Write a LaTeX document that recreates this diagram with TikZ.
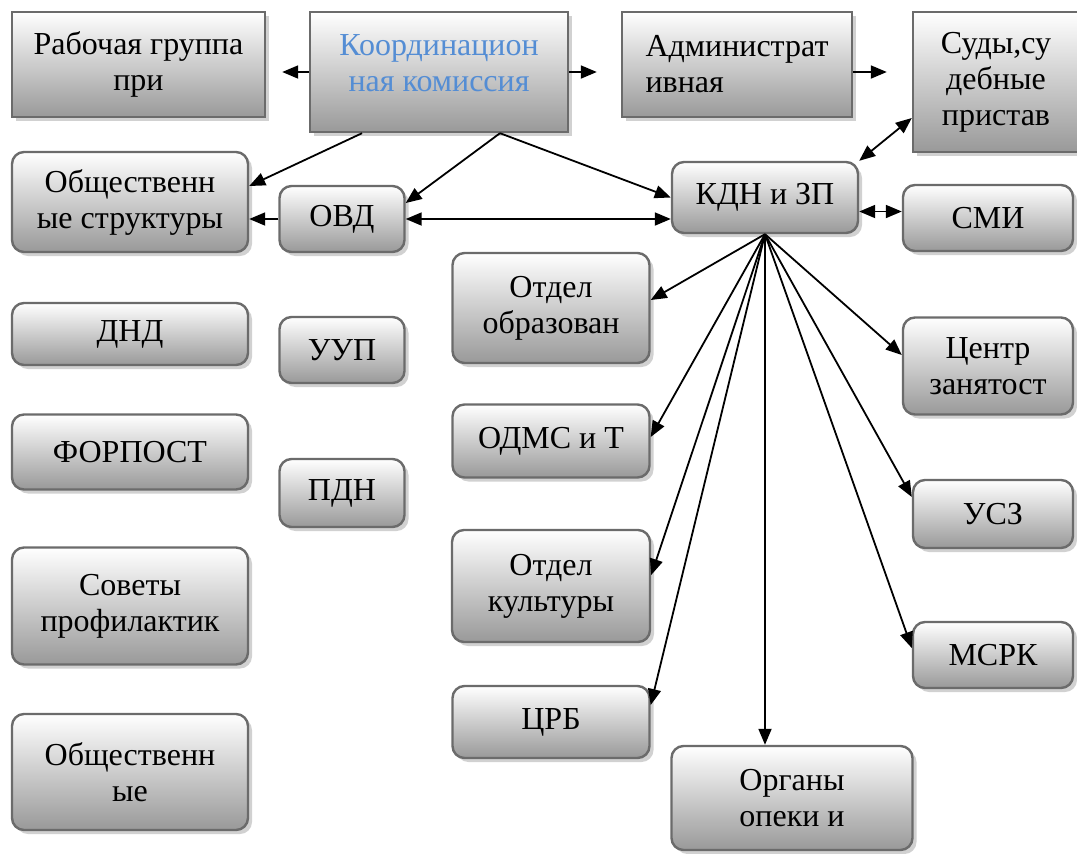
\documentclass[tikz,border=0pt]{standalone}
\usepackage{fontspec}
\setmainfont{Liberation Serif}
\usetikzlibrary{arrows.meta, shadows}
\definecolor{komblue}{HTML}{548DD4}

\begin{document}
\begin{tikzpicture}[x=0.5pt, y=-0.5pt,
  box/.style={rectangle, draw=black!58, line width=1.2pt,
              top color=white, bottom color=black!40,
              align=center, inner sep=0pt,
              font=\fontsize{16}{18}\selectfont,
              drop shadow={shadow xshift=2pt, shadow yshift=-2pt,
                           fill=black!30, opacity=0.6}},
  rbox/.style={box, rounded corners=6pt},
  arrow/.style={-{Triangle[length=8pt, width=6.5pt]}, line width=0.9pt},
  twoway/.style={{Triangle[length=8pt, width=6.5pt]}-{Triangle[length=8pt, width=6.5pt]},
                 line width=0.9pt}
]
  \useasboundingbox (0,0) rectangle (1077,853);

  % top row
  \node[box, minimum width=126.5pt, minimum height=52.5pt] (rab) at (138.5,64.5)
    {Рабочая группа\\при};
  \node[box, minimum width=129pt, minimum height=60pt, text=komblue] (koord) at (439,72)
    {Координацион\\ная комиссия\\[-9pt]\mbox{}};
  \node[box, align=left, minimum width=115pt, minimum height=52.5pt] (adm) at (737,64.5)
    {Администрат\\ивная};
  \node[box, minimum width=83pt, minimum height=70pt] (sud) at (996,82)
    {Суды,су\\дебные\\пристав};

  % left columns
  \node[rbox, minimum width=118pt, minimum height=50pt] (obs) at (130,202)
    {Общественн\\ые структуры};
  \node[rbox, minimum width=62.5pt, minimum height=33pt] (ovd) at (342,219) {ОВД};
  \node[rbox, minimum width=118pt, minimum height=31pt] (dnd) at (130,334) {ДНД};
  \node[rbox, minimum width=62.5pt, minimum height=33pt] (uup) at (342,350) {УУП};
  \node[rbox, minimum width=118pt, minimum height=37.5pt] (forpost) at (130,452) {ФОРПОСТ};
  \node[rbox, minimum width=62.5pt, minimum height=34pt] (pdn) at (342,493) {ПДН};
  \node[rbox, minimum width=118pt, minimum height=58.5pt] (sovety) at (130,606)
    {Советы\\профилактик};
  \node[rbox, minimum width=118pt, minimum height=58pt] (obs2) at (130,772)
    {Общественн\\ые};

  % centre
  \node[rbox, minimum width=93pt, minimum height=35.5pt] (kdn) at (765,197.5) {КДН и ЗП};
  \node[rbox, minimum width=98.5pt, minimum height=55pt] (obr) at (551,308)
    {Отдел\\образован};
  \node[rbox, minimum width=98.5pt, minimum height=36.5pt] (odms) at (551,441) {ОДМС и Т};
  \node[rbox, minimum width=99pt, minimum height=56pt] (kult) at (551,586)
    {Отдел\\культуры};
  \node[rbox, minimum width=98.5pt, minimum height=36pt] (crb) at (551,722) {ЦРБ};
  \node[rbox, minimum width=120.5pt, minimum height=52pt] (opeka) at (792,798)
    {Органы\\опеки и};

  % right column
  \node[rbox, minimum width=85pt, minimum height=33pt] (smi) at (988,218) {СМИ};
  \node[rbox, minimum width=85pt, minimum height=48.5pt] (zan) at (988,366)
    {Центр\\занятост};
  \node[rbox, minimum width=80pt, minimum height=34pt] (usz) at (993,514) {УСЗ};
  \node[rbox, minimum width=80pt, minimum height=33pt] (msrk) at (993,655) {МСРК};

  % connectors from the commission
  \draw[arrow, shorten >=8pt] (koord.west) -- (koord.west -| rab.east);
  \draw[arrow, shorten >=12pt] (koord.east) -- (koord.east -| adm.west);
  \draw[arrow, shorten >=12.5pt] ([yshift=-3.75pt]adm.east) -- ([yshift=-3.75pt]adm.east -| sud.west);
  \draw[arrow] ([xshift=-38.5pt]koord.south) -- ([yshift=8pt]obs.east);
  \draw[arrow] ([xshift=30.5pt]koord.south) -- ([yshift=8pt]ovd.east);
  \draw[arrow] ([xshift=30.5pt]koord.south) -- (kdn.west);

  % OVD and KDN
  \draw[arrow] (ovd.west) -- (ovd.west -| obs.east);
  \draw[twoway] (ovd.east) -- (ovd.east -| kdn.west);
  \draw[twoway] (kdn.north east) -- ([yshift=-18pt]sud.west);
  \draw[twoway] ([yshift=-7pt]kdn.east) -- ([yshift=-7pt]kdn.east -| smi.west);

  % fan out of KDN
  \draw[arrow] (kdn.south) -- ([yshift=4pt]obr.east);
  \draw[arrow] (kdn.south) -- ([yshift=2pt]odms.east);
  \draw[arrow] (kdn.south) -- ([yshift=5.5pt]kult.east);
  \draw[arrow] (kdn.south) -- ([yshift=8.5pt]crb.east);
  \draw[arrow] (kdn.south) -- (kdn.south |- opeka.north);
  \draw[arrow] (kdn.south) -- ([yshift=5.5pt]zan.west);
  \draw[arrow] (kdn.south) -- ([yshift=8.5pt]usz.west);
  \draw[arrow] (kdn.south) -- ([yshift=3.5pt]msrk.west);
\end{tikzpicture}
\end{document}
